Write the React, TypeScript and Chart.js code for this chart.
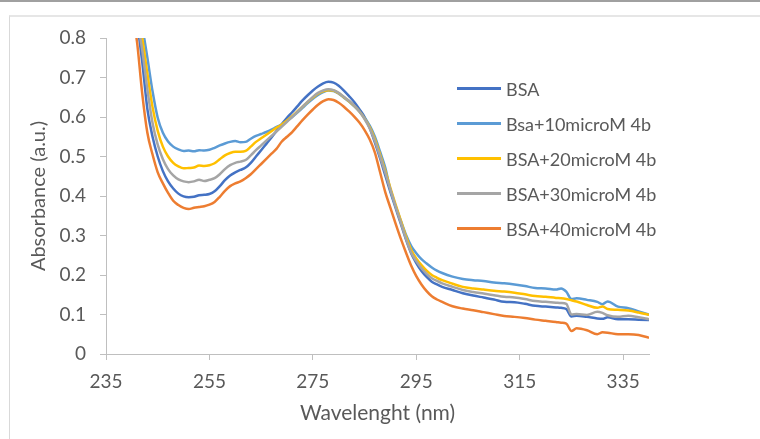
import React, { useEffect, useRef } from "react";
import { Chart, registerables } from "chart.js";

Chart.register(...registerables);

// Wavelength (nm) sample points
const wavelengths = [
  238, 240, 241, 242, 243, 244, 245, 246, 247, 248, 249,
  250, 251, 252, 253, 254, 255, 256, 257, 258, 259,
  260, 261, 262, 263, 264, 265, 266, 267, 268, 269,
  270, 271, 272, 273, 274, 275, 276, 277, 278, 279,
  280, 281, 282, 283, 284, 285, 286, 287, 288, 289,
  290, 291, 292, 293, 294, 295, 296, 297, 298, 299,
  300, 302, 304, 306, 308, 310, 312, 314, 316, 318,
  320, 322, 323, 324, 325, 326, 328, 330, 331, 332,
  334, 336, 338, 340,
];

const bsa = [
  1.05, 0.92, 0.84, 0.74, 0.62, 0.55, 0.5, 0.463, 0.437, 0.419, 0.406,
  0.399, 0.397, 0.398, 0.402, 0.403, 0.405, 0.412, 0.425, 0.44, 0.452,
  0.46, 0.466, 0.472, 0.484, 0.5, 0.516, 0.532, 0.548, 0.565, 0.582,
  0.598, 0.612, 0.627, 0.642, 0.655, 0.667, 0.677, 0.685, 0.689, 0.687,
  0.679, 0.667, 0.653, 0.638, 0.62, 0.6, 0.572, 0.535, 0.495, 0.452,
  0.41, 0.37, 0.33, 0.29, 0.255, 0.23, 0.21, 0.195, 0.183, 0.176,
  0.17, 0.162, 0.154, 0.148, 0.143, 0.138, 0.132, 0.131, 0.127, 0.122,
  0.12, 0.118, 0.117, 0.114, 0.095, 0.097, 0.094, 0.09, 0.089, 0.093,
  0.088, 0.088, 0.087, 0.086,
];

const bsa10 = [
  1.08, 0.97, 0.9, 0.83, 0.75, 0.665, 0.598, 0.56, 0.538, 0.525, 0.518,
  0.514, 0.515, 0.513, 0.516, 0.515, 0.517, 0.522, 0.528, 0.533, 0.537,
  0.539, 0.536, 0.537, 0.545, 0.552, 0.557, 0.562, 0.568, 0.575, 0.581,
  0.59, 0.6, 0.611, 0.623, 0.635, 0.646, 0.656, 0.663, 0.667, 0.666,
  0.659, 0.649, 0.639, 0.627, 0.614, 0.598, 0.578, 0.55, 0.512, 0.472,
  0.415, 0.375, 0.338, 0.302, 0.274, 0.255, 0.24, 0.229, 0.219, 0.211,
  0.205, 0.196, 0.19, 0.187, 0.185, 0.181, 0.179, 0.176, 0.172, 0.167,
  0.166, 0.163, 0.166, 0.158, 0.139, 0.141, 0.137, 0.132, 0.126, 0.133,
  0.12, 0.116, 0.108, 0.1,
];

const bsa20 = [
  1.04, 0.94, 0.87, 0.8, 0.71, 0.625, 0.565, 0.525, 0.5, 0.484, 0.475,
  0.47, 0.471, 0.472, 0.477, 0.476, 0.478, 0.483, 0.493, 0.503, 0.509,
  0.512, 0.512, 0.514, 0.525, 0.537, 0.546, 0.555, 0.564, 0.573, 0.581,
  0.591, 0.602, 0.614, 0.626, 0.638, 0.649, 0.659, 0.665, 0.668, 0.667,
  0.66, 0.65, 0.64, 0.628, 0.614, 0.596, 0.574, 0.544, 0.505, 0.464,
  0.42, 0.378, 0.338, 0.298, 0.264, 0.242, 0.225, 0.211, 0.2, 0.193,
  0.187, 0.178, 0.17, 0.166, 0.163, 0.16, 0.158, 0.155, 0.151, 0.147,
  0.145, 0.142, 0.141, 0.139, 0.136, 0.133, 0.124, 0.117, 0.12, 0.114,
  0.112, 0.11, 0.105, 0.099,
];

const bsa30 = [
  1.02, 0.92, 0.85, 0.77, 0.67, 0.585, 0.53, 0.493, 0.468, 0.452, 0.442,
  0.437, 0.435, 0.437, 0.441, 0.438, 0.441, 0.445, 0.455, 0.468, 0.478,
  0.484, 0.487, 0.491, 0.503, 0.516, 0.528, 0.54, 0.552, 0.564, 0.576,
  0.588, 0.6, 0.613, 0.626, 0.639, 0.651, 0.661, 0.667, 0.67, 0.668,
  0.661, 0.651, 0.641, 0.629, 0.614, 0.595, 0.571, 0.539, 0.5, 0.459,
  0.416, 0.374, 0.333, 0.292, 0.257, 0.235, 0.217, 0.203, 0.192, 0.185,
  0.179, 0.17, 0.162, 0.157, 0.153, 0.149, 0.145, 0.143, 0.139, 0.134,
  0.132, 0.13, 0.129, 0.127, 0.1, 0.101, 0.099, 0.107, 0.104, 0.098,
  0.094, 0.097, 0.093, 0.088,
];

const bsa40 = [
  0.98, 0.87, 0.79, 0.66, 0.56, 0.505, 0.46, 0.432, 0.408, 0.388, 0.377,
  0.37, 0.367, 0.37, 0.372, 0.374, 0.378, 0.385, 0.398, 0.413, 0.425,
  0.432, 0.437, 0.445, 0.455, 0.468, 0.481, 0.494, 0.507, 0.52, 0.538,
  0.55, 0.562, 0.577, 0.592, 0.606, 0.619, 0.631, 0.64, 0.645, 0.643,
  0.636, 0.626, 0.614, 0.601, 0.586, 0.567, 0.543, 0.51, 0.46, 0.41,
  0.37, 0.33, 0.292, 0.257, 0.224, 0.197, 0.176, 0.159, 0.146, 0.138,
  0.132, 0.121, 0.115, 0.111, 0.106, 0.101, 0.096, 0.094, 0.091, 0.087,
  0.084, 0.081, 0.079, 0.077, 0.058, 0.065, 0.06, 0.05, 0.055, 0.054,
  0.05, 0.05, 0.048, 0.041,
];

const seriesNames = [
  "BSA",
  "Bsa+10microM 4b",
  "BSA+20microM 4b",
  "BSA+30microM 4b",
  "BSA+40microM 4b",
];
const seriesValues = [bsa, bsa10, bsa20, bsa30, bsa40];
const seriesColors = ["#4472C4", "#5B9BD5", "#FFC000", "#A5A5A5", "#ED7D31"];

const xTicks = [235, 255, 275, 295, 315, 335];
const yTicks = [0, 0.1, 0.2, 0.3, 0.4, 0.5, 0.6, 0.7, 0.8];

const FONT = "Lato, 'Noto Sans', sans-serif";
const TEXT = "#595959";
const AXIS = "#bfbfbf";

export default function App() {
  const ref = useRef<HTMLCanvasElement | null>(null);

  useEffect(() => {
    if (!ref.current) return;
    const datasets = seriesValues.map((vals, i) => ({
      label: seriesNames[i],
      data: wavelengths.map((w, j) => ({ x: w, y: vals[j] })),
      borderColor: seriesColors[i],
      backgroundColor: seriesColors[i],
      borderWidth: 2.5,
      pointRadius: 0,
      tension: 0.3,
      cubicInterpolationMode: "monotone" as const,
      clip: 0,
      order: seriesValues.length - 1 - i,
    }));
    const chart = new Chart(ref.current, {
      type: "line",
      data: { datasets },
      options: {
        animation: false,
        responsive: false,
        maintainAspectRatio: false,
        layout: { padding: { left: 0, top: 38, right: 111, bottom: 0 } },
        plugins: {
          legend: { display: false },
          tooltip: { enabled: false },
        },
        scales: {
          x: {
            type: "linear",
            min: 235,
            max: 340,
            afterBuildTicks: (s: any) => {
              s.ticks = xTicks.map((v) => ({ value: v }));
            },
            afterFit: (s: any) => {
              s.height = 85;
            },
            grid: {
              drawOnChartArea: false,
              drawTicks: true,
              tickLength: 6,
              color: AXIS,
            },
            border: { display: true, color: AXIS, width: 1 },
            ticks: {
              padding: 10,
              color: TEXT,
              font: { family: FONT, size: 19 },
              maxRotation: 0,
              autoSkip: false,
              callback: (v: any) => String(v),
            },
            title: {
              display: true,
              text: "Wavelenght (nm)",
              color: TEXT,
              font: { family: FONT, size: 21 },
              padding: { top: 0, bottom: 13 },
            },
          },
          y: {
            type: "linear",
            min: 0,
            max: 0.8,
            afterBuildTicks: (s: any) => {
              s.ticks = yTicks.map((v) => ({ value: v }));
            },
            afterFit: (s: any) => {
              s.width = 106;
            },
            grid: {
              drawOnChartArea: false,
              drawTicks: true,
              tickLength: 6,
              color: AXIS,
            },
            border: { display: true, color: AXIS, width: 1 },
            ticks: {
              padding: 14,
              color: TEXT,
              font: { family: FONT, size: 19 },
              callback: (v: any) => String(Math.round(Number(v) * 10) / 10),
            },
            title: {
              display: true,
              text: "Absorbance (a.u.)",
              color: TEXT,
              font: { family: FONT, size: 20 },
              padding: { top: 27, bottom: 0 },
            },
          },
        },
      },
    });
    return () => chart.destroy();
  }, []);

  return (
    <div
      style={{
        position: "fixed",
        left: 0,
        top: 0,
        width: 760,
        height: 439,
        background: "#ffffff",
        overflow: "hidden",
      }}
    >
      <div
        style={{
          position: "absolute",
          left: 0,
          top: 0,
          width: 760,
          height: 2,
          background: "#a0a0a0",
        }}
      />
      <div
        style={{
          position: "absolute",
          left: 9,
          top: 15,
          width: 800,
          height: 500,
          borderTop: "2px solid #e6e6e6",
          borderLeft: "1px solid #d9d9d9",
        }}
      />
      <canvas
        ref={ref}
        width={760}
        height={439}
        style={{ position: "absolute", left: 0, top: 0, width: 760, height: 439 }}
      />
      <div
        style={{
          position: "absolute",
          left: 457,
          top: 71,
          fontFamily: FONT,
          fontSize: 18,
          color: TEXT,
        }}
      >
        {seriesNames.map((name, i) => (
          <div
            key={name}
            style={{ display: "flex", alignItems: "center", height: 35 }}
          >
            <div
              style={{
                width: 44,
                height: 2.5,
                background: seriesColors[i],
                marginRight: 5,
              }}
            />
            <span style={{ whiteSpace: "nowrap" }}>{name}</span>
          </div>
        ))}
      </div>
    </div>
  );
}
